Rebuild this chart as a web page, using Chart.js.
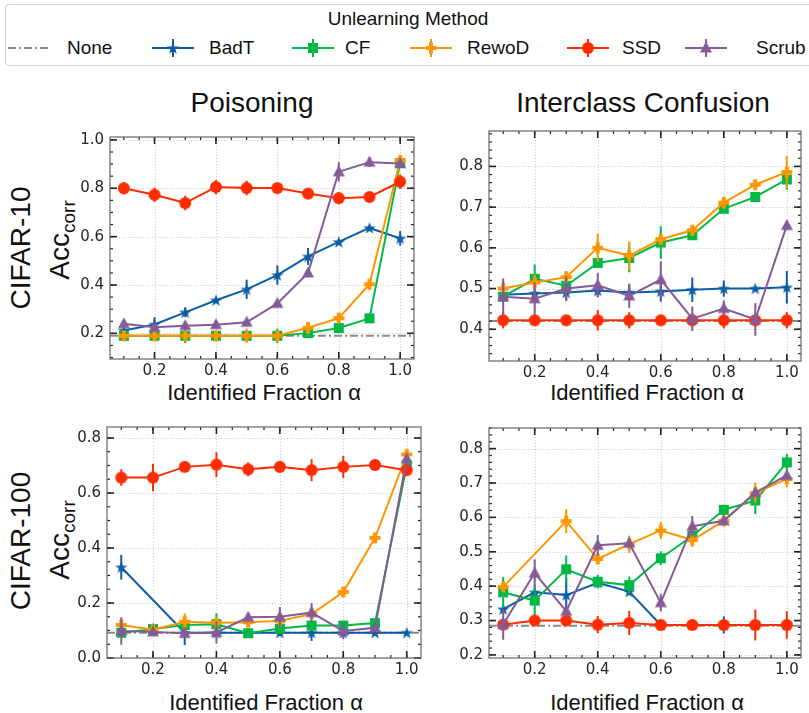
<!DOCTYPE html>
<html>
<head>
<meta charset="utf-8">
<script src="https://cdn.jsdelivr.net/npm/chart.js@4.4.1/dist/chart.umd.min.js"></script>
<style>
  body { margin: 0; width: 809px; height: 713px; position: relative; overflow: hidden; background: #fff;
         font-family: "Liberation Sans", Arial, sans-serif; color: #111; }
  canvas { position: absolute; }
  .txt { position: absolute; white-space: nowrap; transform: translate(-50%, -50%); }
  .rot { position: absolute; white-space: nowrap; transform: translate(-50%, -50%) rotate(-90deg); }
  .rot sub { font-size: 0.68em; vertical-align: -0.28em; }
  #legend { position: absolute; left: 5px; top: 4px; width: 830px; height: 62px; border: 1px solid #d4d4d4;
            border-radius: 4px; box-sizing: border-box; }
  .lt { position: absolute; font-size: 19px; top: 43px; transform: translateY(-50%); }
</style>
</head>
<body>

<div id="legend"></div>
<div class="txt" style="left:408px;top:19px;font-size:19px">Unlearning Method</div>

<div class="txt" style="left:252px;top:103px;font-size:28px">Poisoning</div>
<div class="txt" style="left:643px;top:103px;font-size:28px">Interclass Confusion</div>

<div class="rot" style="left:21px;top:248px;font-size:28px">CIFAR-10</div>
<div class="rot" style="left:62px;top:240px;font-size:28px">Acc<sub>corr</sub></div>
<div class="rot" style="left:21px;top:541px;font-size:28px">CIFAR-100</div>
<div class="rot" style="left:62px;top:540px;font-size:28px">Acc<sub>corr</sub></div>

<div class="txt" style="left:264px;top:393px;font-size:22px">Identified Fraction α</div>
<div class="txt" style="left:647px;top:393px;font-size:22px">Identified Fraction α</div>
<div class="txt" style="left:266px;top:703px;font-size:22px">Identified Fraction α</div>
<div class="txt" style="left:647px;top:703px;font-size:22px">Identified Fraction α</div>

<canvas id="cTL"></canvas>
<canvas id="cTR"></canvas>
<canvas id="cBL"></canvas>
<canvas id="cBR"></canvas>

<script>
// x values (identified fraction) and ticks
const alpha = [0.1, 0.2, 0.3, 0.4, 0.5, 0.6, 0.7, 0.8, 0.9, 1.0];
const xTicks = [0.2, 0.4, 0.6, 0.8, 1.0];

const methods = ["BadT", "CF", "RewoD", "SSD", "Scrub"];
const colors = { None: "#8a8a8a", BadT: "#0C5DA5", CF: "#00B945", RewoD: "#FF9500", SSD: "#FF2C00", Scrub: "#845B97" };
const shapes = { BadT: "star", CF: "square", RewoD: "plus", SSD: "circle", Scrub: "triangle" };

// Poisoning, CIFAR-10
const p10Mean = {
  BadT:  [0.212, 0.237, 0.287, 0.337, 0.382, 0.441, 0.518, 0.578, 0.636, 0.593],
  CF:    [0.19, 0.19, 0.19, 0.19, 0.19, 0.19, 0.201, 0.222, 0.262, 0.905],
  RewoD: [0.19, 0.19, 0.19, 0.19, 0.19, 0.19, 0.223, 0.263, 0.403, 0.915],
  SSD:   [0.80, 0.773, 0.739, 0.805, 0.801, 0.801, 0.778, 0.759, 0.764, 0.827],
  Scrub: [0.24, 0.225, 0.232, 0.236, 0.246, 0.324, 0.45, 0.868, 0.908, 0.902]
};
const p10Err = {
  BadT:  [0.01, 0.03, 0.02, 0.01, 0.04, 0.04, 0.035, 0.01, 0.01, 0.03],
  CF:    [0.01, 0.01, 0.03, 0.02, 0.01, 0.03, 0.01, 0.015, 0.01, 0.01],
  RewoD: [0.01, 0.01, 0.02, 0.02, 0.03, 0.02, 0.025, 0.02, 0.01, 0.01],
  SSD:   [0.025, 0.03, 0.03, 0.03, 0.03, 0.02, 0.01, 0.025, 0.02, 0.03],
  Scrub: [0.01, 0.01, 0.015, 0.01, 0.01, 0.01, 0.01, 0.04, 0.02, 0.01]
};
const p10None = 0.19;

// Interclass confusion, CIFAR-10
const i10Mean = {
  BadT:  [0.485, 0.488, 0.49, 0.495, 0.49, 0.493, 0.497, 0.50, 0.50, 0.503],
  CF:    [0.48, 0.524, 0.507, 0.563, 0.575, 0.613, 0.631, 0.696, 0.725, 0.768],
  RewoD: [0.50, 0.515, 0.528, 0.60, 0.581, 0.621, 0.643, 0.711, 0.755, 0.786],
  SSD:   [0.422, 0.422, 0.422, 0.422, 0.422, 0.422, 0.422, 0.422, 0.422, 0.422],
  Scrub: [0.48, 0.475, 0.50, 0.508, 0.482, 0.522, 0.426, 0.451, 0.424, 0.655]
};
const i10Err = {
  BadT:  [0.01, 0.01, 0.02, 0.015, 0.02, 0.025, 0.03, 0.02, 0.005, 0.04],
  CF:    [0.01, 0.035, 0.01, 0.01, 0.035, 0.04, 0.01, 0.01, 0.01, 0.025],
  RewoD: [0.02, 0.02, 0.015, 0.035, 0.035, 0.01, 0.01, 0.015, 0.01, 0.04],
  SSD:   [0.02, 0.01, 0.01, 0.025, 0.02, 0.01, 0.01, 0.02, 0.01, 0.02],
  Scrub: [0.045, 0.04, 0.03, 0.03, 0.03, 0.045, 0.03, 0.02, 0.04, 0.01]
};
const i10None = 0.42;

// Poisoning, CIFAR-100
const p100Mean = {
  BadT:  [0.33, null, 0.092, 0.092, 0.092, 0.092, 0.092, 0.092, 0.092, 0.092],
  CF:    [0.092, 0.105, 0.12, 0.123, 0.09, 0.107, 0.118, 0.118, 0.127, 0.70],
  RewoD: [0.12, 0.103, 0.132, 0.128, 0.13, 0.135, 0.16, 0.24, 0.437, 0.74],
  SSD:   [0.656, 0.656, 0.695, 0.703, 0.686, 0.695, 0.683, 0.695, 0.702, 0.683],
  Scrub: [0.098, 0.095, 0.09, 0.093, 0.148, 0.15, 0.165, 0.098, 0.11, 0.725]
};
const p100Err = {
  BadT:  [0.045, 0, 0.045, 0.005, 0.005, 0.01, 0.03, 0.01, 0.01, 0.005],
  CF:    [0.01, 0.02, 0.01, 0.04, 0.01, 0.01, 0.01, 0.01, 0.01, 0.01],
  RewoD: [0.01, 0.01, 0.03, 0.02, 0.01, 0.01, 0.01, 0.01, 0.01, 0.01],
  SSD:   [0.03, 0.05, 0.01, 0.045, 0.025, 0.02, 0.04, 0.04, 0.02, 0.02],
  Scrub: [0.05, 0.01, 0.01, 0.04, 0.01, 0.035, 0.035, 0.03, 0.01, 0.01]
};
const p100None = 0.092;

// Interclass confusion, CIFAR-100
const i100Mean = {
  BadT:  [0.333, 0.382, 0.374, 0.41, 0.384, 0.287, 0.287, 0.287, 0.287, 0.287],
  CF:    [0.382, 0.358, 0.449, 0.413, 0.403, 0.481, 0.546, 0.622, 0.649, 0.76],
  RewoD: [0.398, null, 0.589, 0.479, 0.522, 0.562, 0.534, 0.59, 0.671, 0.712],
  SSD:   [0.288, 0.30, 0.30, 0.288, 0.293, 0.287, 0.287, 0.287, 0.287, 0.287],
  Scrub: [0.289, 0.438, 0.327, 0.519, 0.525, 0.352, 0.574, 0.59, 0.672, 0.722]
};
const i100Err = {
  BadT:  [0.01, 0.01, 0.05, 0.01, 0.01, 0.005, 0.005, 0.025, 0.005, 0.005],
  CF:    [0.045, 0.045, 0.04, 0.02, 0.025, 0.02, 0.01, 0.015, 0.04, 0.025],
  RewoD: [0.01, 0, 0.035, 0.01, 0.025, 0.025, 0.02, 0.01, 0.03, 0.025],
  SSD:   [0.01, 0.01, 0.01, 0.025, 0.035, 0.01, 0.01, 0.01, 0.045, 0.04],
  Scrub: [0.045, 0.04, 0.01, 0.03, 0.01, 0.025, 0.03, 0.01, 0.01, 0.01]
};
const i100None = 0.285;

const xMin = 0.055, xMax = 1.045;

// matplotlib-like filled markers as small canvases
function makeMarker(shape, color) {
  const s = 16, m = s / 2;
  const c = document.createElement("canvas");
  c.width = s; c.height = s;
  const ctx = c.getContext("2d");
  ctx.fillStyle = color;
  ctx.beginPath();
  if (shape === "circle") {
    ctx.arc(m, m, 6, 0, Math.PI * 2);
  } else if (shape === "square") {
    ctx.rect(m - 5, m - 5, 10, 10);
  } else if (shape === "triangle") {
    ctx.moveTo(m, m - 6.5); ctx.lineTo(m + 6, m + 4.5); ctx.lineTo(m - 6, m + 4.5); ctx.closePath();
  } else if (shape === "plus") {
    ctx.rect(m - 5.5, m - 2, 11, 4); ctx.rect(m - 2, m - 5.5, 4, 11);
  } else if (shape === "star") {
    for (let k = 0; k < 10; k++) {
      const r = k % 2 ? 2.6 : 6.5;
      const a = -Math.PI / 2 + k * Math.PI / 5;
      const px = m + r * Math.cos(a), py = m + 0.5 + r * Math.sin(a);
      k ? ctx.lineTo(px, py) : ctx.moveTo(px, py);
    }
    ctx.closePath();
  }
  ctx.fill();
  return c;
}

const markers = {};
methods.forEach(m => markers[m] = makeMarker(shapes[m], colors[m]));

// error bars, drawn with each dataset
const errorBars = {
  id: "errorBars",
  afterDatasetDraw(chart, args) {
    const ds = chart.data.datasets[args.index];
    if (!ds.err) return;
    const ctx = chart.ctx, xs = chart.scales.x, ys = chart.scales.y, a = chart.chartArea;
    ctx.save();
    ctx.beginPath(); ctx.rect(a.left, a.top, a.right - a.left, a.bottom - a.top); ctx.clip();
    ctx.strokeStyle = ds.borderColor; ctx.lineWidth = 2;
    ds.data.forEach((p, i) => {
      const e = ds.err[i];
      if (p.y == null || !e) return;
      const px = xs.getPixelForValue(p.x);
      ctx.beginPath();
      ctx.moveTo(px, ys.getPixelForValue(p.y - e));
      ctx.lineTo(px, ys.getPixelForValue(p.y + e));
      ctx.stroke();
    });
    ctx.restore();
  }
};

// dotted grid, frame and inward ticks like the SciencePlots style
const frame = {
  id: "frame",
  beforeDatasetsDraw(chart) {
    const ctx = chart.ctx, a = chart.chartArea, xs = chart.scales.x, ys = chart.scales.y;
    ctx.save();
    ctx.strokeStyle = "#c4c4c4"; ctx.lineWidth = 0.8; ctx.setLineDash([1.2, 1.8]);
    xs.ticks.forEach(t => { const p = Math.round(xs.getPixelForValue(t.value)) + 0.5;
      ctx.beginPath(); ctx.moveTo(p, a.top); ctx.lineTo(p, a.bottom); ctx.stroke(); });
    ys.ticks.forEach(t => { const p = Math.round(ys.getPixelForValue(t.value)) + 0.5;
      ctx.beginPath(); ctx.moveTo(a.left, p); ctx.lineTo(a.right, p); ctx.stroke(); });
    ctx.restore();
  },
  afterDraw(chart, args, opts) {
    const ctx = chart.ctx, a = chart.chartArea, xs = chart.scales.x, ys = chart.scales.y;
    ctx.save();
    ctx.strokeStyle = "#222"; ctx.lineWidth = 1.2;
    const tick = (x1, y1, x2, y2) => { ctx.beginPath(); ctx.moveTo(x1, y1); ctx.lineTo(x2, y2); ctx.stroke(); };
    const minors = (lo, hi, step) => {
      const out = [];
      for (let k = Math.ceil(lo / step - 1e-6); k * step <= hi + 1e-9; k++) out.push(+(k * step).toFixed(4));
      return out;
    };
    minors(xs.min, xs.max, 0.05).forEach(v => {
      const p = xs.getPixelForValue(v);
      tick(p, a.bottom, p, a.bottom - 3); tick(p, a.top, p, a.top + 3);
    });
    minors(ys.min, ys.max, opts.yMinor).forEach(v => {
      const p = ys.getPixelForValue(v);
      tick(a.left, p, a.left + 3, p); tick(a.right, p, a.right - 3, p);
    });
    ctx.lineWidth = 1.6;
    xs.ticks.forEach(t => { const p = xs.getPixelForValue(t.value);
      tick(p, a.bottom, p, a.bottom - 7); tick(p, a.top, p, a.top + 7); });
    ys.ticks.forEach(t => { const p = ys.getPixelForValue(t.value);
      tick(a.left, p, a.left + 7, p); tick(a.right, p, a.right - 7, p); });
    ctx.strokeStyle = "#666"; ctx.lineWidth = 1.2;
    ctx.strokeRect(a.left, a.top, a.right - a.left, a.bottom - a.top);
    ctx.restore();
  }
};

function makePanel(id, box, yMin, yMax, yTicks, yMinor, mean, err, noneLevel) {
  const cv = document.getElementById(id);
  const yW = 55, padTop = 12, padRight = 3, xH = 30;
  cv.width = box.R - box.L + yW + padRight;
  cv.height = box.B - box.T + padTop + xH;
  cv.style.left = (box.L - yW) + "px";
  cv.style.top = (box.T - padTop) + "px";

  const datasets = [{
    label: "None",
    data: [{ x: xMin, y: noneLevel }, { x: xMax, y: noneLevel }],
    borderColor: colors.None, borderWidth: 2, borderDash: [8, 3, 2, 3],
    pointRadius: 0, order: 10
  }];
  methods.forEach((m, i) => {
    datasets.push({
      label: m,
      data: alpha.map((x, k) => ({ x: x, y: mean[m][k] })),
      err: err[m],
      borderColor: colors[m], backgroundColor: colors[m],
      borderWidth: 2, pointStyle: markers[m], pointRadius: 6,
      spanGaps: true, order: 5 - i
    });
  });

  new Chart(cv, {
    type: "line",
    data: { datasets: datasets },
    options: {
      responsive: false, animation: false,
      layout: { padding: { top: padTop, right: padRight, left: 0, bottom: 0 } },
      plugins: { legend: { display: false }, tooltip: { enabled: false }, frame: { yMinor: yMinor } },
      scales: {
        x: {
          type: "linear", min: xMin, max: xMax,
          afterBuildTicks: s => { s.ticks = xTicks.map(v => ({ value: v })); },
          afterFit: s => { s.height = xH; },
          grid: { display: false, drawTicks: false }, border: { display: false },
          ticks: { padding: 3, color: "#262626", font: { family: "DejaVu Sans", size: 15 },
                   callback: v => v.toFixed(1) }
        },
        y: {
          type: "linear", min: yMin, max: yMax,
          afterBuildTicks: s => { s.ticks = yTicks.map(v => ({ value: v })); },
          afterFit: s => { s.width = yW; },
          grid: { display: false, drawTicks: false }, border: { display: false },
          ticks: { padding: 6, color: "#262626", font: { family: "DejaVu Sans", size: 15 },
                   callback: v => v.toFixed(1) }
        }
      }
    },
    plugins: [errorBars, frame]
  });
}

makePanel("cTL", { L: 110, R: 419, T: 134, B: 359 }, 0.094, 1.012, [0.2, 0.4, 0.6, 0.8, 1.0], 0.05, p10Mean, p10Err, p10None);
makePanel("cTR", { L: 489, R: 806, T: 128, B: 361 }, 0.322, 0.887, [0.4, 0.5, 0.6, 0.7, 0.8], 0.02, i10Mean, i10Err, i10None);
makePanel("cBL", { L: 107, R: 426, T: 424, B: 658 }, 0.0, 0.84, [0.0, 0.2, 0.4, 0.6, 0.8], 0.05, p100Mean, p100Err, p100None);
makePanel("cBR", { L: 489, R: 806, T: 425, B: 658 }, 0.191, 0.86, [0.2, 0.3, 0.4, 0.5, 0.6, 0.7, 0.8], 0.02, i100Mean, i100Err, i100None);

// legend handles: line, error bar and marker
const legendLayout = [["None", 8, 67], ["BadT", 152, 209], ["CF", 292, 345],
                      ["RewoD", 410, 467], ["SSD", 567, 622], ["Scrub", 685, 756]];
const legend = document.getElementById("legend");
legendLayout.forEach(([name, hx, tx]) => {
  const c = document.createElement("canvas");
  c.width = 42; c.height = 22;
  c.style.left = (hx - 6) + "px"; c.style.top = "32px";
  const ctx = c.getContext("2d");
  ctx.strokeStyle = colors[name]; ctx.lineWidth = 2;
  if (name === "None") ctx.setLineDash([8, 3, 2, 3]);
  ctx.beginPath(); ctx.moveTo(0, 11); ctx.lineTo(42, 11); ctx.stroke();
  if (name !== "None") {
    ctx.beginPath(); ctx.moveTo(21, 2); ctx.lineTo(21, 20); ctx.stroke();
    ctx.drawImage(markers[name], 21 - 8, 11 - 8);
  }
  legend.appendChild(c);
  const t = document.createElement("div");
  t.className = "lt"; t.textContent = name;
  t.style.left = (tx - 6) + "px";
  legend.appendChild(t);
});
</script>
</body>
</html>
